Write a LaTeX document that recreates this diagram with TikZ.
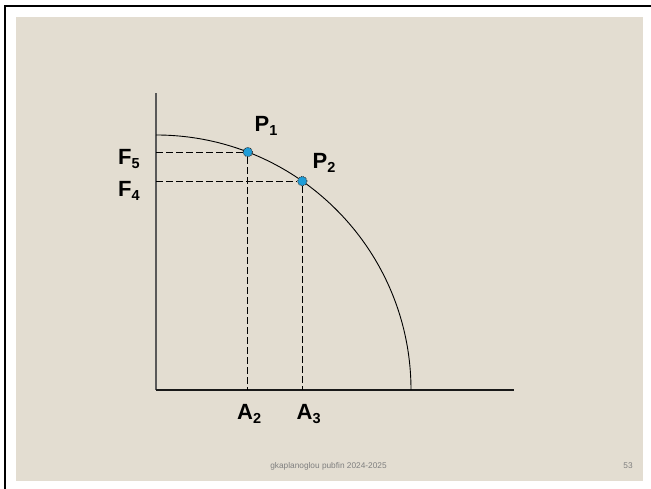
\documentclass[tikz,border=0pt]{standalone}
\usepackage{fontspec}
\usetikzlibrary{calc}
\setmainfont{Liberation Sans}
\definecolor{slidebg}{HTML}{E3DDD1}
\definecolor{dotblue}{HTML}{1E9DD8}
\definecolor{footgray}{HTML}{7F7F7F}
\newcommand{\lbl}[2]{\fontsize{22}{22}\selectfont\bfseries #1\raisebox{-4pt}{\fontsize{14.5}{14.5}\selectfont #2}}
\begin{document}
\begin{tikzpicture}[x=1pt,y=1pt,
  axisline/.style={line width=1.4pt},
  guide/.style={line width=0.9pt, dash pattern=on 6.5pt off 3.5pt},
  pt/.style={circle, fill=dotblue, draw=black!80, densely dotted, line width=0.9pt, minimum size=9.5pt, inner sep=0pt},
  lab/.style={anchor=base west, inner sep=0pt, text=black},
  foot/.style={font=\fontsize{8.3}{9}\selectfont, text=footgray, inner sep=0pt}]
\useasboundingbox (0,0) rectangle (651,489);
\fill[white] (0,0) rectangle (651,489);
\fill[slidebg] (16,8) rectangle (643,472);
\draw[line width=2pt] (5,0) -- (5,483) -- (651,483);
% axes
\coordinate (O) at (156,99);
\coordinate (Ytop) at (156,396);
\coordinate (Xend) at (514,99);
\draw[axisline, black!65] (O) -- (Ytop);
\draw[axisline, black!90] (O) -- (Xend);
% curve
\draw[line width=0.9pt] (156,354) arc[start angle=90, end angle=0, radius=255];
% points on curve
\node[pt] (P1) at ($(O)+(68.9:255)$) {};
\node[pt] (P2) at ($(O)+(55.0:255)$) {};
% guide coordinates
\coordinate (F5c) at (O |- P1);
\coordinate (F4c) at (O |- P2);
\coordinate (A2c) at (P1 |- O);
\coordinate (A3c) at (P2 |- O);
\draw[guide] (F5c) -- (P1);
\draw[guide] (F4c) -- (P2);
\draw[guide] (P1) -- (A2c);
\draw[guide] (P2) -- (A3c);
% labels
\node[lab] (lP1) at (254.5,357.3) {\lbl{P}{1}};
\node[lab] (lP2) at (312.5,320.7) {\lbl{P}{2}};
\node[lab] (lF5) at (118,324.7) {\lbl{F}{5}};
\node[lab] (lF4) at (118,292.3) {\lbl{F}{4}};
\node[lab] (lA2) at (237,69.7) {\lbl{A}{2}};
\node[lab] (lA3) at (296.5,69.7) {\lbl{A}{3}};
% footer
\node[foot] (ft) at (328.5,23) {gkaplanoglou pubfin 2024-2025};
\node[foot] (pg) at (628,23) {53};
\end{tikzpicture}
\end{document}
